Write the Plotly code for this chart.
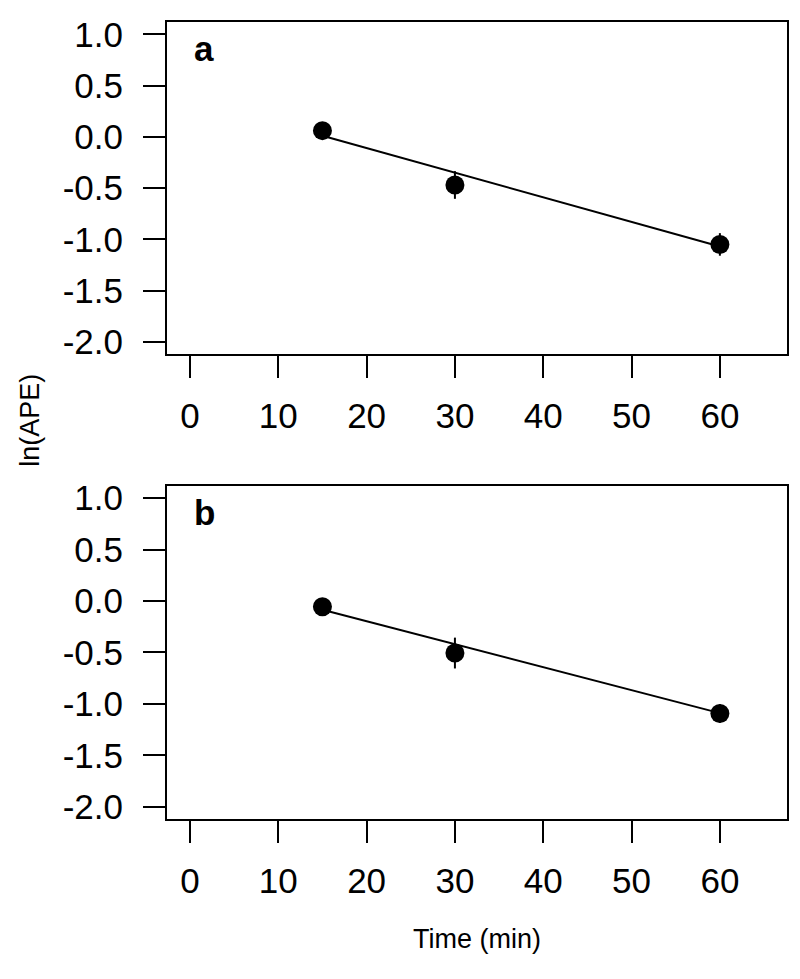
import plotly.graph_objects as go

# ---- data ----
time_min = [15, 30, 60]
ape_a = [0.06, -0.47, -1.05]
err_a = [0.07, 0.135, 0.11]
ape_b = [-0.056, -0.506, -1.094]
err_b = [0.04, 0.15, 0.09]
fit_x = [15, 60]
fit_a = [0.01, -1.07]
fit_b = [-0.085, -1.09]
x_tick_vals = [0, 10, 20, 30, 40, 50, 60]
x_tick_text = ["0", "10", "20", "30", "40", "50", "60"]
y_tick_vals = [1.0, 0.5, 0.0, -0.5, -1.0, -1.5, -2.0]
y_tick_text = ["1.0", "0.5", "0.0", "-0.5", "-1.0", "-1.5", "-2.0"]
panel_labels = ["a", "b"]

FONT = "Arial, Liberation Sans, sans-serif"
FS = 35

fig = go.Figure()
for i, (ys, es, fy) in enumerate([(ape_a, err_a, fit_a), (ape_b, err_b, fit_b)]):
    xa = "x" if i == 0 else "x2"
    ya = "y" if i == 0 else "y2"
    fig.add_trace(go.Scatter(x=fit_x, y=fy, mode="lines", xaxis=xa, yaxis=ya,
                             line=dict(color="black", width=2), showlegend=False))
    fig.add_trace(go.Scatter(x=time_min, y=ys, mode="markers", xaxis=xa, yaxis=ya,
                             marker=dict(color="black", size=19),
                             error_y=dict(type="data", array=es, color="black",
                                          thickness=2, width=0),
                             showlegend=False))

ax_common = dict(showline=True, linecolor="black", linewidth=2, mirror=True,
                 ticks="outside", ticklen=22, tickwidth=2, tickcolor="black",
                 showgrid=False, zeroline=False,
                 tickfont=dict(family=FONT, size=FS, color="black"))

xax = dict(ax_common, range=[-2.6, 67.6], tickvals=x_tick_vals, ticktext=x_tick_text,
           ticklabelstandoff=8)
yax = dict(ax_common, range=[-2.12, 1.12], tickvals=y_tick_vals, ticktext=y_tick_text,
           ticklabelstandoff=13)

# page body has an 8px margin, so the figure is 8px smaller and shifted
fig.update_layout(
    width=792, height=971,
    margin=dict(l=159, r=13, t=7, b=160),
    paper_bgcolor="white", plot_bgcolor="white",
    xaxis=dict(xax, domain=[0, 1], anchor="y"),
    yaxis=dict(yax, domain=[0.5833, 1], anchor="x"),
    xaxis2=dict(xax, domain=[0, 1], anchor="y2"),
    yaxis2=dict(yax, domain=[0, 0.418], anchor="x2"),
    font=dict(family=FONT, size=FS, color="black"),
)

for i, lab in enumerate(panel_labels):
    sfx = "" if i == 0 else "2"
    fig.add_annotation(text="<b>%s</b>" % lab, xref="x%s domain" % sfx, yref="y%s domain" % sfx,
                       x=0.04, y=0.92, xanchor="left", yanchor="middle", showarrow=False,
                       font=dict(family=FONT, size=FS, color="black"))

fig.add_annotation(text="ln(APE)", xref="paper", yref="paper", x=-0.222, y=0.5,
                   textangle=-90, showarrow=False, xanchor="center", yanchor="middle",
                   font=dict(family=FONT, size=27, color="black"))
fig.add_annotation(text="Time (min)", xref="paper", yref="paper", x=0.5, y=-0.1505,
                   showarrow=False, xanchor="center", yanchor="middle",
                   font=dict(family=FONT, size=27, color="black"))

fig.write_html("out.html")
